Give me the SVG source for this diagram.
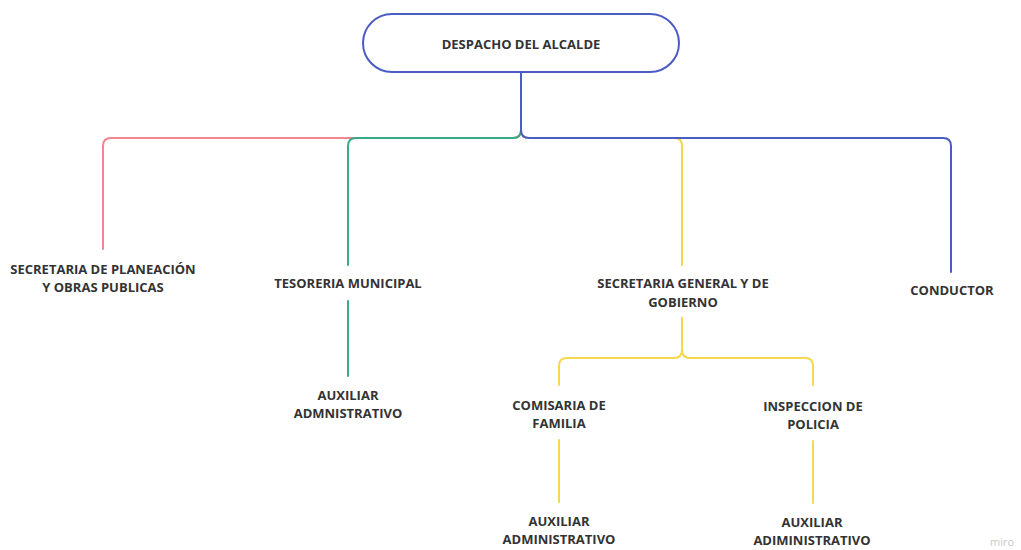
<svg xmlns="http://www.w3.org/2000/svg" width="1021" height="550" viewBox="0 0 1021 550">
<style>
.lbl{font-family:"Open Sans","Liberation Sans",sans-serif;font-weight:700;font-size:13px;fill:#333333;text-anchor:middle;dominant-baseline:central}
.c{fill:none;stroke-width:2;stroke-linecap:round;stroke-linejoin:round}
.red{stroke:#f0878e}
.grn{stroke:#3aa98a}
.blu{stroke:#4b5cc4}
.yel{stroke:#f5d84e}
</style>
<rect width="1021" height="550" fill="#ffffff"/>
<g id="connectors">
<path class="c red" d="M521,72 V130 Q521,138 513,138 H111 Q103,138 103,146 V249"/>
<path class="c yel" d="M521,72 V130 Q521,138 529,138 H674 Q682,138 682,146 V265"/>
<path class="c grn" d="M521,72 V130 Q521,138 513,138 H356 Q348,138 348,146 V265"/>
<path class="c blu" d="M521,72 V130 Q521,138 529,138 H943 Q951,138 951,146 V272"/>
<path class="c grn" d="M348,301 V376"/>
<path class="c yel" d="M682,318 V350 Q682,358 674,358 H567 Q559,358 559,366 V385"/>
<path class="c yel" d="M682,318 V350 Q682,358 690,358 H805 Q813,358 813,366 V385"/>
<path class="c yel" d="M559,440 V502"/>
<path class="c yel" d="M813,441 V503"/>
</g>
<g id="despacho">
<rect x="363" y="14" width="316" height="58" rx="29" ry="29" fill="#ffffff" stroke="#4b5cc4" stroke-width="2"/>
<text class="lbl" x="521" y="44">DESPACHO DEL ALCALDE</text>
</g>
<g id="planeacion">
<text class="lbl" x="103" y="269">SECRETARIA DE PLANEACIÓN</text>
<text class="lbl" x="103" y="287">Y OBRAS PUBLICAS</text>
</g>
<g id="tesoreria">
<text class="lbl" x="348" y="283">TESORERIA MUNICIPAL</text>
</g>
<g id="aux-tesoreria">
<text class="lbl" x="348" y="395">AUXILIAR</text>
<text class="lbl" x="348" y="413">ADMNISTRATIVO</text>
</g>
<g id="secretaria-general">
<text class="lbl" x="683" y="283">SECRETARIA GENERAL Y DE</text>
<text class="lbl" x="683" y="302">GOBIERNO</text>
</g>
<g id="conductor">
<text class="lbl" x="952" y="290">CONDUCTOR</text>
</g>
<g id="comisaria">
<text class="lbl" x="559" y="405">COMISARIA DE</text>
<text class="lbl" x="559" y="423">FAMILIA</text>
</g>
<g id="inspeccion">
<text class="lbl" x="813" y="406">INSPECCION DE</text>
<text class="lbl" x="813" y="424">POLICIA</text>
</g>
<g id="aux-comisaria">
<text class="lbl" x="559" y="521">AUXILIAR</text>
<text class="lbl" x="559" y="539">ADMINISTRATIVO</text>
</g>
<g id="aux-inspeccion">
<text class="lbl" x="812" y="522">AUXILIAR</text>
<text class="lbl" x="812" y="540">ADIMINISTRATIVO</text>
</g>
<text x="1002" y="546" font-family="Open Sans, Liberation Sans, sans-serif" font-size="11" fill="#c8c8c8" text-anchor="middle">miro</text>
</svg>
